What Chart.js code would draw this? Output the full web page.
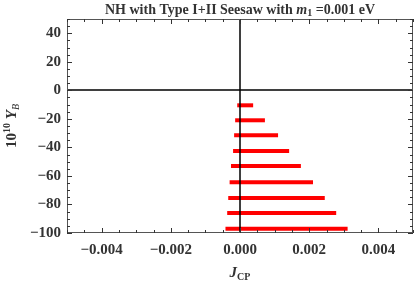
<!DOCTYPE html>
<html lang="en">
<head>
<meta charset="UTF-8">
<title>NH with Type I+II Seesaw</title>
<script src="https://cdn.jsdelivr.net/npm/chart.js"></script>
<style>
  html, body { margin: 0; padding: 0; background: #fff; }
</style>
</head>
<body>
<canvas id="myChart" width="415" height="284"></canvas>
<script>
// rows of the scan: Y_B value and the J_CP range covered at that value
const rowY   = [-10.5, -21, -31.5, -42.5, -53, -64.5, -75.5, -86, -97];
const xStart = [-0.00008, -0.00014, -0.00017, -0.0002, -0.00026, -0.0003, -0.00034, -0.00037, -0.00042];
const xEnd   = [0.00038, 0.00072, 0.0011, 0.00142, 0.00176, 0.00211, 0.00245, 0.00278, 0.00311];
const xTicks = [-0.004, -0.002, 0, 0.002, 0.004];
const yTicks = [40, 20, 0, -20, -40, -60, -80, -100];

const SERIF = '"Liberation Serif", "DejaVu Serif", serif';
const TXT = '#333';

const datasets = rowY.map((y, i) => ({
    data: [{ x: xStart[i], y: y }, { x: xEnd[i], y: y }],
    showLine: true,
    borderColor: '#ff0000',
    borderWidth: 4,
    pointRadius: 0,
    borderCapStyle: 'butt'
}));

function drawParts(ctx, parts, x, y) {
    // parts: [text, font, dy]
    let w = 0;
    parts.forEach(p => { ctx.font = p[1]; w += ctx.measureText(p[0]).width; });
    let cx = x - w / 2;
    parts.forEach(p => {
        ctx.font = p[1];
        ctx.fillText(p[0], cx, y + (p[2] || 0));
        cx += ctx.measureText(p[0]).width;
    });
}

const framePlugin = {
    id: 'framePlugin',
    afterDatasetsDraw(chart) {
        const { ctx, chartArea: a, scales: { x, y } } = chart;
        ctx.save();
        // zero axes
        ctx.strokeStyle = '#000';
        ctx.lineWidth = 1.5;
        ctx.beginPath();
        const x0 = Math.round(x.getPixelForValue(0));
        const y0 = Math.round(y.getPixelForValue(0));
        ctx.moveTo(x0, a.top); ctx.lineTo(x0, a.bottom);
        ctx.moveTo(a.left, y0); ctx.lineTo(a.right, y0);
        ctx.stroke();

        // frame
        ctx.strokeStyle = '#555';
        ctx.lineWidth = 1;
        ctx.strokeRect(a.left + 0.5, a.top + 0.5, a.right - a.left - 1, a.bottom - a.top - 1);

        // inward ticks on all sides
        ctx.strokeStyle = '#333';
        ctx.beginPath();
        for (let k = -10; k <= 10; k++) {
            const v = k * 0.0005;
            const px = Math.round(x.getPixelForValue(v)) + 0.5;
            const len = k % 4 === 0 ? 5 : 3;
            ctx.moveTo(px, a.bottom); ctx.lineTo(px, a.bottom - len);
            ctx.moveTo(px, a.top); ctx.lineTo(px, a.top + len);
        }
        for (let v = -100; v <= 50; v += 5) {
            const py = Math.round(y.getPixelForValue(v)) + 0.5;
            const len = v % 20 === 0 ? 5 : 3;
            ctx.moveTo(a.left, py); ctx.lineTo(a.left + len, py);
            ctx.moveTo(a.right, py); ctx.lineTo(a.right - len, py);
        }
        ctx.stroke();

        // title
        ctx.fillStyle = TXT;
        ctx.textBaseline = 'alphabetic';
        ctx.textAlign = 'left';
        const cx = (a.left + a.right) / 2;
        drawParts(ctx, [
            ['NH with Type I+II Seesaw with ', 'bold 14px ' + SERIF],
            ['m', 'italic bold 14px ' + SERIF],
            ['1', 'bold 10px ' + SERIF, 2],
            [' =0.001 eV', 'bold 14px ' + SERIF]
        ], cx, 14);

        // x label
        drawParts(ctx, [
            ['J', 'italic bold 15px ' + SERIF],
            ['CP', 'bold 10px ' + SERIF, 3]
        ], cx, 277);

        // y label
        ctx.translate(16, (a.top + a.bottom) / 2);
        ctx.rotate(-Math.PI / 2);
        drawParts(ctx, [
            ['10', 'bold 15px ' + SERIF],
            ['10', 'bold 10px ' + SERIF, -6],
            [' Y', 'italic bold 15px ' + SERIF],
            ['B', 'italic 10px ' + SERIF, 3]
        ], 0, 0);
        ctx.restore();
    }
};

const fmtX = v => v === 0 ? '0.000' : (v < 0 ? '\u2212' : '') + Math.abs(v).toFixed(3);
const fmtY = v => (v < 0 ? '\u2212' : '') + Math.abs(v);

const config = {
    type: 'scatter',
    data: { datasets: datasets },
    options: {
        responsive: false,
        animation: false,
        devicePixelRatio: 1,
        layout: { padding: { top: 19, right: 2, left: 0, bottom: 0 } },
        plugins: {
            legend: { display: false },
            tooltip: { enabled: false }
        },
        scales: {
            x: {
                type: 'linear',
                min: -0.005,
                max: 0.005,
                afterBuildTicks: s => { s.ticks = xTicks.map(v => ({ value: v })); },
                afterFit: s => { s.height = 51; },
                grid: { display: false, drawTicks: false },
                border: { display: false },
                ticks: {
                    padding: 8,
                    color: TXT,
                    font: { family: SERIF, size: 15, weight: 'bold' },
                    callback: v => fmtX(v)
                }
            },
            y: {
                type: 'linear',
                min: -100,
                max: 50,
                afterBuildTicks: s => { s.ticks = yTicks.map(v => ({ value: v })); },
                afterFit: s => { s.width = 67; },
                grid: { display: false, drawTicks: false },
                border: { display: false },
                ticks: {
                    padding: 6,
                    color: TXT,
                    font: { family: SERIF, size: 15, weight: 'bold' },
                    callback: v => fmtY(v)
                }
            }
        }
    },
    plugins: [framePlugin]
};

new Chart(document.getElementById('myChart').getContext('2d'), config);
</script>
</body>
</html>
